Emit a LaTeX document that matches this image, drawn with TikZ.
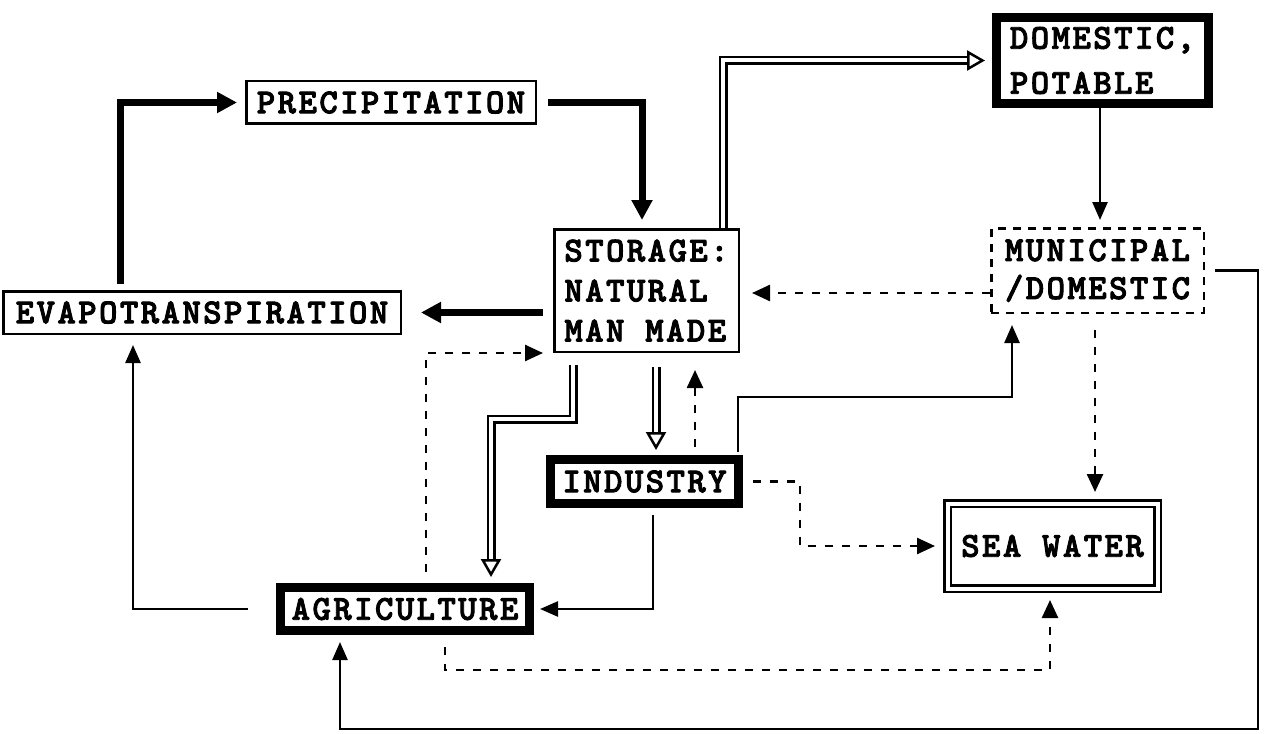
\documentclass[tikz,border=0pt]{standalone}
\usepackage{fontspec}
\usetikzlibrary{arrows.meta}
\newfontfamily\boxfont{lmmonolt10-bold.otf}[LetterSpace=7, FakeBold=2.5]

\begin{document}
\begin{tikzpicture}[x=1pt,y=-1pt,
  txt/.style={font=\boxfont\fontsize{35}{40}\selectfont},
  plainbox/.style={draw, line width=2.5pt, inner sep=0pt, txt},
  heavybox/.style={draw, line width=9pt, inner sep=0pt, txt},
  dashbox/.style={draw, line width=2.5pt, dash pattern=on 8pt off 7pt, inner sep=0pt, txt},
  dblbox/.style={draw, double, line width=2.5pt, double distance=4pt, outer sep=4.5pt, inner sep=0pt, txt},
  thin/.style={line width=2.5pt, -{Triangle[length=18pt,width=15pt]}},
  dsh/.style={line width=2.5pt, dash pattern=on 8pt off 9pt, -{Triangle[length=18pt,width=16pt]}},
  heavy/.style={line width=7pt, -{Triangle[length=20pt,width=20pt]}},
  pipe/.style={draw, double, line width=2.5pt, double distance=4pt},
  pipehead/.style={line width=2.5pt, -{Triangle[fill=white,length=18pt,width=20pt]}}
]
\fill[white] (0,0) rectangle (1265,733);
\useasboundingbox (0,0) rectangle (1265,733);

% boxes
\node[plainbox, minimum width=289.5pt, minimum height=42.5pt] (precip) at (391,102.5) {PRECIPITATION};
\node[plainbox, minimum width=397.5pt, minimum height=42.5pt] (evapo) at (202,312.5) {EVAPOTRANSPIRATION};
\node[plainbox, minimum width=184.5pt, minimum height=122.5pt, align=left] (storage) at (646.5,290.5) {STORAGE:\\NATURAL\\MAN MADE};
\node[heavybox, minimum width=212pt, minimum height=86pt, align=left, font=\boxfont\fontsize{35}{45}\selectfont] (domestic) at (1102.5,60.5) {DOMESTIC,\\POTABLE};
\node[dashbox, minimum width=212.5pt, minimum height=84.5pt, align=left, font=\boxfont\fontsize{35}{38}\selectfont] (municipal) at (1097.5,270.5) {MUNICIPAL\\/DOMESTIC};
\node[heavybox, minimum width=188pt, minimum height=44pt] (industry) at (644.5,481.5) {INDUSTRY};
\node[heavybox, minimum width=249pt, minimum height=43pt] (agri) at (405,609) {AGRICULTURE};
\node[dblbox, minimum width=210pt, minimum height=85pt] (sea) at (1052.5,546) {SEA WATER};

% natural cycle (heavy arrows)
\draw[heavy, shorten <=6pt, shorten >=8pt] ([xshift=-82pt]evapo.north) |- (precip.west);
\draw[heavy, shorten <=11pt, shorten >=8pt] (precip.east) -| ([xshift=-4.5pt]storage.north);
\draw[heavy, shorten <=10pt, shorten >=19pt] (storage.west |- evapo.east) -- (evapo.east);

% supply pipes (double lines with open heads)
\draw[pipe] ([xshift=76.5pt]storage.north) |- ([xshift=-25pt]domestic.west);
\draw[pipehead] ([xshift=-25pt]domestic.west) -- ([xshift=-7pt]domestic.west);
\draw[pipe, shorten <=12pt] ([xshift=-73.5pt]storage.south) -- ++(0,66) -| ([xshift=86pt,yshift=24pt]agri.north);
\draw[pipehead] ([xshift=86pt,yshift=24pt]agri.north) -- ([xshift=86pt,yshift=6pt]agri.north);
\draw[pipe, shorten <=14pt] ([xshift=9.5pt]storage.south) -- ([xshift=11.5pt,yshift=23pt]industry.north);
\draw[pipehead] ([xshift=11.5pt,yshift=23pt]industry.north) -- ([xshift=11.5pt,yshift=5pt]industry.north);

% solid flows
\draw[thin, shorten >=7pt] ([xshift=-2.5pt]domestic.south) -- ([xshift=-2.5pt]domestic.south |- municipal.north);
\coordinate (farright) at (1258,729);
\coordinate (farleft) at (340,729);
\draw[thin, shorten <=10pt, shorten >=7pt] (municipal.east) -| (farright) -- (farleft) -- (farleft |- agri.south);
\draw[thin, shorten <=28pt, shorten >=10pt] (agri.west) -| ([xshift=-69pt]evapo.south);
\draw[thin, shorten <=3pt, shorten >=11pt] ([xshift=93.5pt]industry.north) -- ++(0,-58) -| ([xshift=-85.5pt]municipal.south);
\draw[thin, shorten <=7pt, shorten >=6pt] ([xshift=8.5pt]industry.south) |- (agri.east);

% return flows (dashed)
\draw[dsh, shorten >=12pt] ([yshift=-22.5pt]municipal.west) -- ([yshift=-22.5pt]municipal.west -| storage.east);
\draw[dsh, shorten <=11pt, shorten >=10pt] ([xshift=21pt]agri.north) |- (storage.south west);
\draw[dsh, shorten <=8pt, shorten >=17pt] ([xshift=50.5pt]industry.north) -- ([xshift=50.5pt]industry.north |- storage.south);
\draw[dsh, shorten <=10pt, shorten >=8pt] (industry.east) -- ++(57,0) |- (sea.west);
\draw[dsh, shorten <=16pt, shorten >=7pt] ([xshift=-2.5pt]municipal.south) -- ([xshift=-2.5pt]municipal.south |- sea.north);
\draw[dsh, shorten <=12pt, shorten >=7pt] ([xshift=40pt]agri.south) -- ++(0,35) -| ([xshift=-2.5pt]sea.south);
\end{tikzpicture}
\end{document}
